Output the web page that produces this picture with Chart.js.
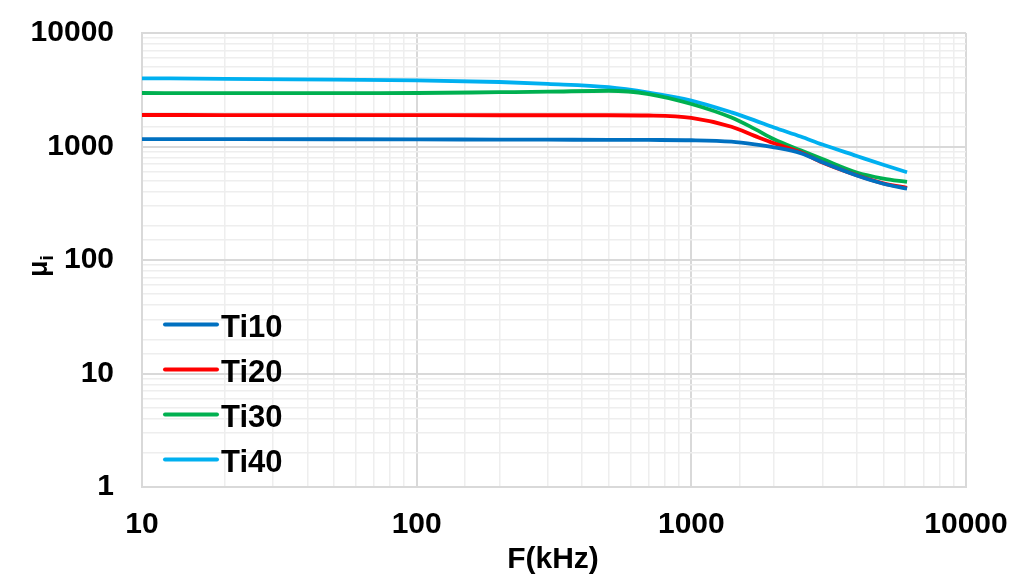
<!DOCTYPE html>
<html>
<head>
<meta charset="utf-8">
<script src="https://cdn.jsdelivr.net/npm/chart.js@4/dist/chart.umd.min.js"></script>
<style>
html,body{margin:0;padding:0;background:#fff;}
#wrap{width:1035px;height:581px;position:relative;}
</style>
</head>
<body>
<div id="wrap"><canvas id="c" width="1035" height="581"></canvas></div>
<script>
// ---- data ----
const freqs = [10, 20, 50, 100, 200, 300, 500, 700, 1000, 1400, 1700, 2000, 2500, 3000, 4000, 5000, 6100];
const ti10 = [1162, 1160, 1158, 1155, 1150, 1148, 1145, 1142, 1135, 1102, 1045, 984, 875, 725, 555, 470, 425];
const ti20 = [1895, 1893, 1890, 1888, 1886, 1885, 1885, 1875, 1790, 1494, 1241, 1067, 890, 722, 558, 474, 432];
const ti30 = [2960, 2955, 2955, 2960, 3010, 3040, 3100, 2900, 2370, 1800, 1430, 1160, 925, 775, 590, 522, 487];
const ti40 = [3990, 3950, 3880, 3830, 3700, 3560, 3330, 2980, 2540, 2000, 1700, 1470, 1225, 1040, 825, 690, 593];
const seriesNames = ['Ti10', 'Ti20', 'Ti30', 'Ti40'];
const seriesColors = ['#0070C0', '#FF0000', '#00B050', '#00B0F0'];
const xTickLabels = ['10', '100', '1000', '10000'];
const yTickLabels = ['1', '10', '100', '1000', '10000'];
const xTitle = 'F(kHz)';
const yTitleMain = 'μ';
const yTitleSub = 'i';

const FONT = '"Liberation Sans", Arial, sans-serif';
const allSeries = [ti10, ti20, ti30, ti40];

const datasets = allSeries.map((vals, i) => ({
  label: seriesNames[i],
  data: freqs.map((f, j) => ({x: f, y: vals[j]})),
  borderColor: seriesColors[i],
  backgroundColor: seriesColors[i],
  borderWidth: 3.8,
  pointRadius: 0,
  cubicInterpolationMode: 'monotone',
  fill: false
}));

function isMajor(v){ const l = Math.log10(v); return Math.abs(l - Math.round(l)) < 1e-9; }

const customPlugin = {
  id: 'custom',
  afterDraw(chart){
    const ctx = chart.ctx;
    ctx.save();
    // legend
    const ys = [324.5, 369.5, 414.5, 459.5];
    chart.data.datasets.forEach((ds, i) => {
      ctx.strokeStyle = ds.borderColor;
      ctx.lineWidth = 4;
      ctx.lineCap = 'round';
      ctx.beginPath();
      ctx.moveTo(165, ys[i]);
      ctx.lineTo(217, ys[i]);
      ctx.stroke();
      ctx.fillStyle = '#000';
      ctx.font = 'bold 31px ' + FONT;
      ctx.textAlign = 'left';
      ctx.textBaseline = 'alphabetic';
      ctx.fillText(ds.label, 221, ys[i] + 12);
    });
    // x title
    ctx.font = 'bold 30px ' + FONT;
    ctx.textAlign = 'center';
    ctx.textBaseline = 'alphabetic';
    ctx.fillText(xTitle, 553, 568);
    // y title rotated
    ctx.translate(47, 277);
    ctx.rotate(-Math.PI/2);
    ctx.textAlign = 'left';
    ctx.font = 'bold 27px ' + FONT;
    ctx.fillText(yTitleMain, 0, 0);
    const w = ctx.measureText(yTitleMain).width;
    ctx.font = 'bold 19px ' + FONT;
    ctx.fillText(yTitleSub, w, 6);
    ctx.restore();
  }
};

new Chart(document.getElementById('c'), {
  type: 'line',
  data: { datasets },
  options: {
    responsive: false,
    animation: false,
    devicePixelRatio: 1,
    layout: { padding: { left: 0, top: 33, right: 69, bottom: 0 } },
    plugins: { legend: { display: false }, tooltip: { enabled: false } },
    scales: {
      x: {
        type: 'logarithmic',
        min: 10, max: 10000,
        afterFit(s){ s.height = 94; s.paddingLeft = 0; s.paddingRight = 0; },
        border: { display: true, color: '#d9d9d9', width: 2 },
        grid: {
          drawTicks: false,
          color: c => isMajor(c.tick.value) ? '#d9d9d9' : '#eeeeee',
          lineWidth: c => isMajor(c.tick.value) ? 2 : 1.5
        },
        ticks: {
          autoSkip: false, maxRotation: 0, padding: 20,
          color: '#000',
          font: { family: FONT, size: 30, weight: 'bold' },
          callback: v => xTickLabels.includes(String(v)) ? String(v) : ''
        }
      },
      y: {
        type: 'logarithmic',
        min: 1, max: 10000,
        afterFit(s){ s.width = 142; s.paddingTop = 0; s.paddingBottom = 0; },
        border: { display: true, color: '#d9d9d9', width: 2 },
        grid: {
          drawTicks: false,
          color: c => isMajor(c.tick.value) ? '#d9d9d9' : '#eeeeee',
          lineWidth: c => isMajor(c.tick.value) ? 2 : 1.5
        },
        ticks: {
          autoSkip: false, padding: 28,
          color: '#000',
          font: { family: FONT, size: 30, weight: 'bold' },
          callback: v => yTickLabels.includes(String(v)) ? String(v) : ''
        }
      }
    }
  },
  plugins: [customPlugin]
});
</script>
</body>
</html>
